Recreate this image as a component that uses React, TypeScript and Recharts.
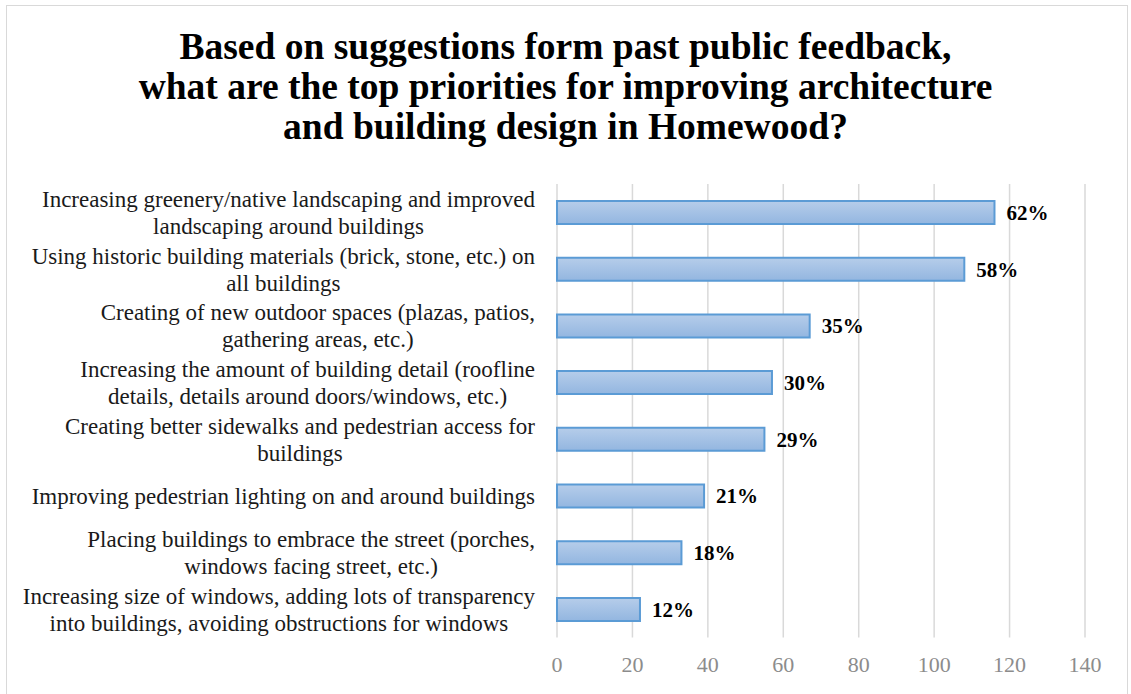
import React from "react";
import { BarChart, Bar, XAxis, YAxis, CartesianGrid, LabelList } from "recharts";

const categories = [
  "Increasing greenery/native landscaping and improved\nlandscaping around buildings",
  "Using historic building materials (brick, stone, etc.) on\nall buildings",
  "Creating of new outdoor spaces (plazas, patios,\ngathering areas, etc.)",
  "Increasing the amount of building detail (roofline\ndetails, details around doors/windows, etc.)",
  "Creating better sidewalks and pedestrian access for\nbuildings",
  "Improving pedestrian lighting on and around buildings",
  "Placing buildings to embrace the street (porches,\nwindows facing street, etc.)",
  "Increasing size of windows, adding lots of transparency\ninto buildings, avoiding obstructions for windows",
];
const counts = [116, 108, 67, 57, 55, 39, 33, 22];
const pctLabels = ["62%", "58%", "35%", "30%", "29%", "21%", "18%", "12%"];
const xTicks = [0, 20, 40, 60, 80, 100, 120, 140];
const titleLines = [
  "Based on suggestions form past public feedback,",
  "what are the top priorities for improving architecture",
  "and building design in Homewood?",
];

const data = categories.map((c, i) => ({ label: c, value: counts[i], pct: pctLabels[i] }));

const FONT = "'Liberation Serif', 'Times New Roman', serif";
const CAT_SIZE = 23;

let ctx: CanvasRenderingContext2D | null = null;
const measure = (t: string, font: string) => {
  if (!ctx) ctx = document.createElement("canvas").getContext("2d");
  if (!ctx) return t.length * 10;
  ctx.font = font;
  return ctx.measureText(t).width;
};

const CategoryTick = (props: any) => {
  const { x, y, payload } = props;
  const lines: string[] = String(payload.value).split("\n");
  const font = `${CAT_SIZE}px 'Liberation Serif'`;
  const maxW = Math.max(...lines.map((l) => measure(l, font)));
  const right = x - 14;
  const cx = right - maxW / 2;
  const lh = 27;
  const y0 = y - ((lines.length - 1) * lh) / 2;
  return (
    <g>
      {lines.map((l, i) => (
        <text key={i} x={cx} y={y0 + i * lh} dy="0.35em" textAnchor="middle" fontFamily={FONT} fontSize={CAT_SIZE} fill="#1a1a1a">
          {l}
        </text>
      ))}
    </g>
  );
};

const XTick = (props: any) => {
  const { x, y, payload } = props;
  return (
    <text x={x} y={y} dy={26} textAnchor="middle" fontFamily={FONT} fontSize={22} fill="#8c8c8c">
      {payload.value}
    </text>
  );
};

const ValueLabel = (props: any) => {
  const { x, y, width, height, value } = props;
  return (
    <text x={x + width + 12} y={y + height / 2} dy="0.35em" textAnchor="start" fontFamily={FONT} fontSize={21} fontWeight="bold" fill="#000">
      {value}
    </text>
  );
};

export default function App() {
  return (
    <div style={{ position: "absolute", left: 0, top: 0, width: 1131, height: 694, overflow: "hidden", background: "#fff" }}>
      <div style={{ position: "absolute", left: 6, top: 5, width: 1122, height: 720, border: "1.5px solid #d9d9d9", boxSizing: "border-box" }} />
      <div style={{ position: "absolute", left: 0, top: 27, width: 1131, textAlign: "center", fontFamily: FONT, fontWeight: "bold", fontSize: 37.5, lineHeight: "40px", color: "#000" }}>
        {titleLines.map((t, i) => (
          <div key={i}>{t}</div>
        ))}
      </div>
      <div style={{ position: "absolute", left: 0, top: 0 }}>
        <BarChart width={1131} height={694} data={data} layout="vertical" margin={{ top: 184, right: 46, bottom: 20, left: 0 }} barSize={23}>
          <defs>
            <linearGradient id="barGrad" x1="0" y1="0" x2="0" y2="1">
              <stop offset="0%" stopColor="#b6cdea" />
              <stop offset="100%" stopColor="#93b6e0" />
            </linearGradient>
          </defs>
          <CartesianGrid horizontal={false} stroke="#d9d9d9" strokeWidth={1.5} />
          <XAxis type="number" domain={[0, 140]} ticks={xTicks} axisLine={false} tickLine={false} height={36.4} tick={<XTick />} interval={0} />
          <YAxis type="category" dataKey="label" width={557} axisLine={false} tickLine={false} tick={<CategoryTick />} interval={0} />
          <Bar dataKey="value" fill="url(#barGrad)" stroke="#5b9bd5" strokeWidth={2} isAnimationActive={false}>
            <LabelList dataKey="pct" content={<ValueLabel />} />
          </Bar>
        </BarChart>
      </div>
    </div>
  );
}
